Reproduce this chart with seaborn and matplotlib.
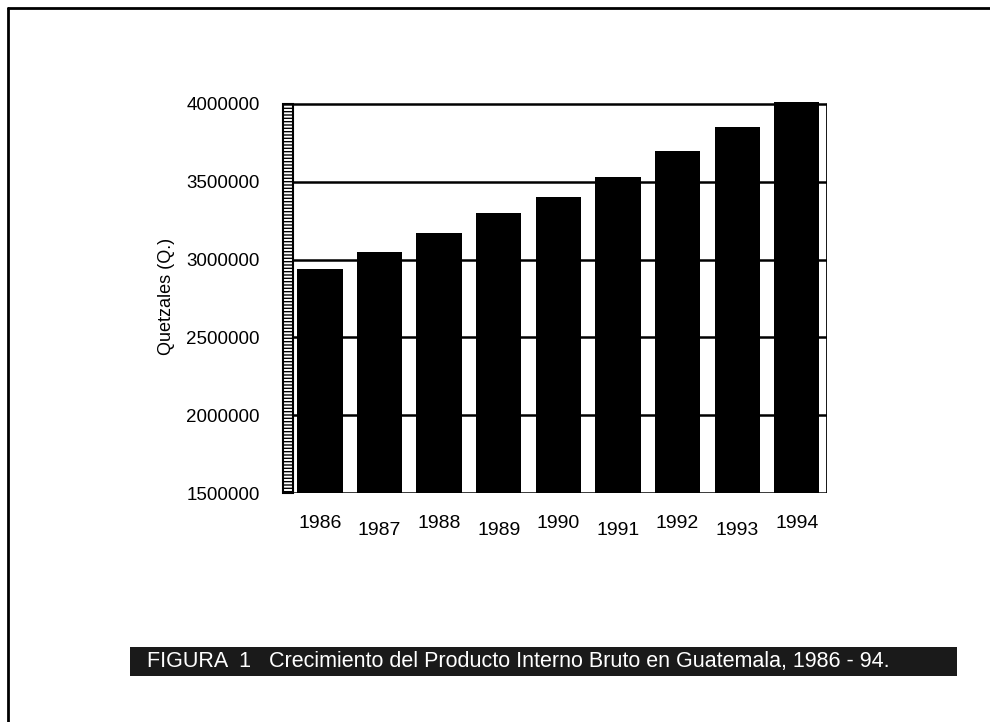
import numpy as np
import pandas as pd
import matplotlib
matplotlib.use("Agg")
import matplotlib.pyplot as plt
import matplotlib.transforms as mtransforms
from matplotlib.patches import Rectangle
from matplotlib.lines import Line2D
import seaborn as sns

# data
years = ["1986", "1987", "1988", "1989", "1990", "1991", "1992", "1993", "1994"]
pib = [2940000, 3050000, 3170000, 3300000, 3400000, 3530000, 3700000, 3850000, 4010000]
yticks = [1500000, 2000000, 2500000, 3000000, 3500000, 4000000]

df = pd.DataFrame({"year": years, "pib": pib})

sns.set_theme(style="white")
plt.rcParams["font.family"] = ["Liberation Sans", "DejaVu Sans"]
plt.rcParams["text.color"] = "black"
plt.rcParams["xtick.color"] = "black"
plt.rcParams["ytick.color"] = "black"
plt.rcParams["axes.labelcolor"] = "black"

ymin, ymax, ytop = 1500000, 4000000, 4025000

fig = plt.figure(figsize=(9.9, 7.22), dpi=100)
# axes height chosen so that 1.5M..4.0M spans the same pixels as the reference
h = 0.539 * (ytop - ymin) / (ymax - ymin)
ax = fig.add_axes([0.293, 0.317, 0.542, h])

# gridlines behind the bars
for v in yticks:
    ax.axhline(v, color="black", lw=1.8, zorder=0)

sns.barplot(data=df, x="year", y="pib", color="black", width=0.76,
            edgecolor="black", linewidth=0, ax=ax, zorder=2)

ax.set_ylim(ymin, ytop)
ax.set_xlim(-0.5, 8.5)
ax.set_yticks(yticks)
ax.set_yticklabels([str(v) for v in yticks], fontsize=13.5)
ax.tick_params(axis="y", length=0, pad=22)
ax.tick_params(axis="x", length=0, pad=16)
ax.set_xlabel("")
ax.set_ylabel("Quetzales (Q.)", fontsize=13, labelpad=8)

# staggered year labels
ax.set_xticks(range(len(years)))
ax.set_xticklabels(years, fontsize=14)
for i, lab in enumerate(ax.get_xticklabels()):
    if i % 2 == 1 and i < 8:
        lab.set_transform(lab.get_transform() +
                          mtransforms.ScaledTranslation(0, -5 / 72, fig.dpi_scale_trans))

for s in ["top", "left", "bottom", "right"]:
    ax.spines[s].set_visible(False)
frac = (ymax - ymin) / (ytop - ymin)
ax.axvline(8.5, ymin=0, ymax=frac, color="black", lw=2, zorder=1)

# hatched side wall on the left
wall = Rectangle((-0.014, 0), 0.02, frac, transform=ax.transAxes, facecolor="white",
                 edgecolor="black", hatch="-----", lw=1.5, clip_on=False, zorder=3)
ax.add_patch(wall)

# caption bar
fig.patches.append(Rectangle((0.131, 0.064), 0.836, 0.040, transform=fig.transFigure,
                             facecolor="#1a1a1a", edgecolor="none", zorder=1))
fig.text(0.148, 0.084,
         "FIGURA  1   Crecimiento del Producto Interno Bruto en Guatemala, 1986 - 94.",
         color="white", fontsize=15.5, va="center", ha="left", zorder=2)

# outer frame (top and left only)
fig.lines.append(Line2D([0.008, 1.0], [0.989, 0.989], transform=fig.transFigure,
                        color="black", lw=2))
fig.lines.append(Line2D([0.008, 0.008], [0.0, 0.989], transform=fig.transFigure,
                        color="black", lw=2))

fig.savefig("out.png", dpi=100, facecolor="white")
